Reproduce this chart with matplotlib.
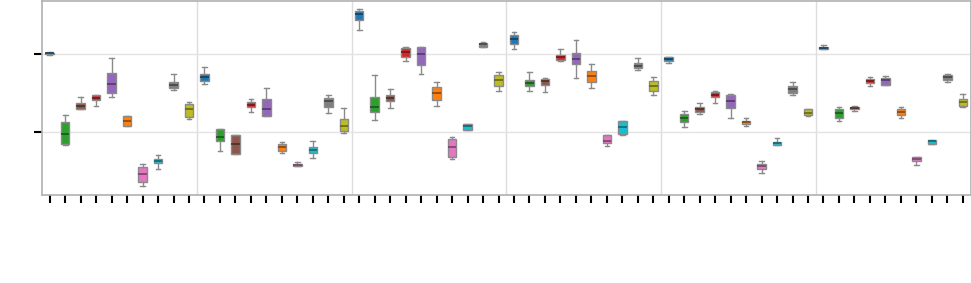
import matplotlib
matplotlib.use("Agg")
import matplotlib.pyplot as plt
import numpy as np
from matplotlib.colors import to_rgb

groups = ["G1", "G2", "G3", "G4", "G5", "G6"]
categories = ["blue", "green", "brown", "red", "purple", "orange", "pink", "cyan", "gray", "olive"]
colors = ["tab:blue", "tab:green", "tab:brown", "tab:red", "tab:purple",
          "tab:orange", "tab:pink", "tab:cyan", "tab:gray", "tab:olive"]

# each entry: (whislo, q1, median, q3, whishi)
g1 = [(0.994, 1.000, 1.013, 1.019, 1.026), (-0.171, -0.154, -0.022, 0.124, 0.214),
      (0.299, 0.299, 0.342, 0.376, 0.449), (0.342, 0.410, 0.445, 0.483, 0.483),
      (0.458, 0.504, 0.615, 0.756, 0.958), (0.077, 0.077, 0.145, 0.209, 0.209),
      (-0.692, -0.645, -0.538, -0.449, -0.414), (-0.478, -0.401, -0.372, -0.346, -0.291),
      (0.538, 0.568, 0.606, 0.641, 0.744), (0.171, 0.192, 0.291, 0.368, 0.381)]
g2 = [(0.624, 0.663, 0.705, 0.747, 0.837), (-0.244, -0.115, -0.060, 0.042, 0.042),
      (-0.286, -0.286, -0.158, -0.038, -0.038), (0.265, 0.317, 0.350, 0.381, 0.427),
      (0.209, 0.209, 0.295, 0.427, 0.573), (-0.265, -0.240, -0.192, -0.150, -0.124),
      (-0.440, -0.440, -0.419, -0.406, -0.381), (-0.333, -0.265, -0.227, -0.188, -0.115),
      (0.240, 0.321, 0.394, 0.445, 0.478), (-0.013, 0.013, 0.077, 0.171, 0.312)]
g3 = [(1.317, 1.445, 1.522, 1.560, 1.581), (0.150, 0.253, 0.321, 0.449, 0.740),
      (0.304, 0.406, 0.445, 0.478, 0.560), (0.914, 0.971, 1.035, 1.086, 1.099),
      (0.753, 0.868, 1.000, 1.099, 1.099), (0.333, 0.419, 0.504, 0.581, 0.650),
      (-0.350, -0.317, -0.192, -0.086, -0.068), (0.022, 0.022, 0.077, 0.099, 0.099),
      (1.094, 1.099, 1.128, 1.150, 1.154), (0.535, 0.599, 0.667, 0.731, 0.778)]
g4 = [(1.068, 1.137, 1.196, 1.247, 1.291), (0.529, 0.590, 0.637, 0.676, 0.778),
      (0.522, 0.603, 0.658, 0.683, 0.701), (0.914, 0.932, 0.971, 0.991, 1.073),
      (0.701, 0.881, 0.945, 1.017, 1.179), (0.573, 0.650, 0.718, 0.786, 0.881),
      (-0.183, -0.141, -0.112, -0.042, -0.042), (-0.042, -0.022, 0.064, 0.137, 0.145),
      (0.804, 0.829, 0.855, 0.888, 0.958), (0.478, 0.526, 0.590, 0.663, 0.709)]
g5 = [(0.894, 0.919, 0.945, 0.962, 0.971), (0.068, 0.128, 0.188, 0.231, 0.273),
      (0.235, 0.260, 0.295, 0.321, 0.376), (0.376, 0.449, 0.483, 0.513, 0.535),
      (0.179, 0.312, 0.406, 0.474, 0.496), (0.073, 0.099, 0.124, 0.145, 0.176),
      (-0.522, -0.471, -0.436, -0.406, -0.376), (-0.171, -0.171, -0.145, -0.124, -0.081),
      (0.478, 0.504, 0.555, 0.590, 0.650), (0.205, 0.214, 0.244, 0.295, 0.299)]
g6 = [(1.068, 1.068, 1.081, 1.094, 1.124), (0.145, 0.179, 0.240, 0.295, 0.317),
      (0.269, 0.299, 0.312, 0.321, 0.333), (0.594, 0.628, 0.663, 0.688, 0.709),
      (0.612, 0.612, 0.667, 0.696, 0.722), (0.188, 0.222, 0.260, 0.295, 0.324),
      (-0.423, -0.372, -0.342, -0.317, -0.317), (-0.150, -0.150, -0.119, -0.099, -0.099),
      (0.645, 0.676, 0.709, 0.731, 0.744), (0.321, 0.333, 0.381, 0.423, 0.487)]
all_groups = [g1, g2, g3, g4, g5, g6]
y_ticks = [0, 1]

fig = plt.figure(figsize=(9.71, 2.83), dpi=100)
ax = fig.add_axes([42 / 971, 88 / 283, 928.5 / 971, 194.5 / 283])

edge = "#8a8a8a"
pos = 0
for gi, g in enumerate(all_groups):
    for ci, s in enumerate(g):
        wl, q1, med, q3, wh = s
        stats = [dict(whislo=wl, q1=q1, med=med, q3=q3, whishi=wh, fliers=[])]
        c = to_rgb(colors[ci])
        dark = tuple(v * 0.55 for v in c)
        ax.bxp(stats, positions=[pos], widths=0.55, patch_artist=True, showfliers=False,
               boxprops=dict(facecolor=c, edgecolor=edge, linewidth=1.0),
               medianprops=dict(color=dark, linewidth=1.2),
               whiskerprops=dict(color=edge, linewidth=1.0),
               capprops=dict(color=edge, linewidth=1.0),
               capwidths=0.3, manage_ticks=False)
        pos += 1

n = pos
for b in range(1, len(all_groups)):
    ax.axvline(b * 10 - 0.5, color="#dddddd", linewidth=1.0, zorder=0)

ax.set_xlim(-0.5, n - 0.5)
ax.set_ylim(-0.808, 1.692)
ax.set_xticks(np.arange(n))
ax.set_xticklabels([""] * n)
ax.set_yticks(y_ticks)
ax.set_yticklabels([""] * len(y_ticks))
ax.grid(axis="y", color="#e3e3e3", linewidth=1.0, zorder=0)
ax.set_axisbelow(True)
ax.tick_params(axis="both", length=6, width=1.5, color="black")
for sp in ax.spines.values():
    sp.set_color("#b0b0b0")
    sp.set_linewidth(1.2)

fig.savefig("out.png", dpi=100)
